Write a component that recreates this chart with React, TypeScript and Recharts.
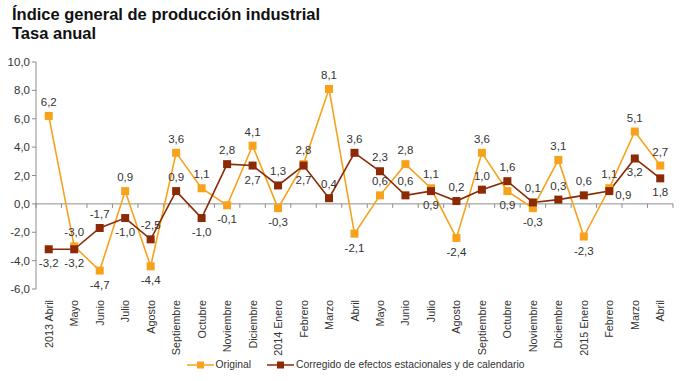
import React from 'react';
import { LineChart, Line, XAxis, YAxis, ReferenceLine, LabelList, Legend } from 'recharts';

const categories = ['2013 Abril', 'Mayo', 'Junio', 'Julio', 'Agosto', 'Septiembre', 'Octubre', 'Noviembre', 'Diciembre', '2014 Enero', 'Febrero', 'Marzo', 'Abril', 'Mayo', 'Junio', 'Julio', 'Agosto', 'Septiembre', 'Octubre', 'Noviembre', 'Diciembre', '2015 Enero', 'Febrero', 'Marzo', 'Abril'];
const original = [6.2, -3.0, -4.7, 0.9, -4.4, 3.6, 1.1, -0.1, 4.1, -0.3, 2.8, 8.1, -2.1, 0.6, 2.8, 1.1, -2.4, 3.6, 0.9, -0.3, 3.1, -2.3, 1.1, 5.1, 2.7];
const corregido = [-3.2, -3.2, -1.7, -1.0, -2.5, 0.9, -1.0, 2.8, 2.7, 1.3, 2.7, 0.4, 3.6, 2.3, 0.6, 0.9, 0.2, 1.0, 1.6, 0.1, 0.3, 0.6, 0.9, 3.2, 1.8];
const yTicks = [-6, -4, -2, 0, 2, 4, 6, 8, 10];

// label placement: t = above, b = below, r = right
const originalPlace = ['t', 't', 'b', 't', 'b', 't', 't', 'b', 't', 'b', 't', 't', 'b', 't', 't', 't', 'b', 't', 'b', 'b', 't', 'b', 't', 't', 't'];
const corregidoPlace = ['b', 'b', 't', 'b', 't', 't', 'b', 't', 'b', 't', 'b', 't', 't', 't', 't', 'b', 't', 't', 't', 't', 't', 't', 'r', 'b', 'b'];

const data = categories.map((c, i) => ({ cat: c, idx: i, original: original[i], corregido: corregido[i] }));

const ORANGE = '#F7A21B';
const DARK = '#8C2A06';
const FONT = '"Liberation Sans", Arial, sans-serif';

const fmt = (v: number) => v.toFixed(1).replace('.', ',');

const makeLabel = (places: string[]) => (props: any) => {
  const { x, y, value, index } = props;
  const p = places[index];
  let tx = x;
  let ty = y;
  let anchor: 'middle' | 'start' = 'middle';
  if (p === 't') ty = y - 14;
  else if (p === 'b') ty = y + 14;
  else if (p === 'r') { tx = x + 6; ty = y + 4; anchor = 'start'; }
  return (
    <text x={tx} y={ty + 4} textAnchor={anchor} fontSize={11.5} fontFamily={FONT} fill="#333">
      {fmt(value)}
    </text>
  );
};

const SquareDot = (color: string) => (props: any) => {
  const { cx, cy } = props;
  if (cx == null || cy == null) return <g />;
  return <rect x={cx - 4} y={cy - 4} width={8} height={8} fill={color} />;
};

const XTick = (props: any) => {
  const { x, payload } = props;
  const y = props.y + 3;
  return (
    <text x={x} y={y} transform={`rotate(-90, ${x}, ${y})`} textAnchor="end" dominantBaseline="central" fontSize={10.8} fontFamily={FONT} fill="#333">
      {categories[payload.value]}
    </text>
  );
};

const ZeroLine = (props: any) => {
  const { x1, y1, x2, y2 } = props;
  const n = categories.length;
  const step = (x2 - x1) / n;
  const ticks = [];
  for (let i = 0; i <= n; i++) {
    const tx = x1 + i * step;
    ticks.push(<line key={i} x1={tx} y1={y1} x2={tx} y2={y1 + 4} stroke="#8c8c8c" strokeWidth={1} />);
  }
  return (
    <g>
      <line x1={x1} y1={y1} x2={x2} y2={y2} stroke="#8c8c8c" strokeWidth={1} />
      {ticks}
    </g>
  );
};

const LegendContent = () => (
  <div style={{ display: 'flex', justifyContent: 'center', fontFamily: FONT, fontSize: 10.3, color: '#333', alignItems: 'center', paddingTop: 4, paddingLeft: 38 }}>
    <svg width={27} height={10} style={{ marginRight: 2 }}>
      <line x1={0} y1={5} x2={27} y2={5} stroke={ORANGE} strokeWidth={1.5} />
      <rect x={10} y={1.5} width={7} height={7} fill={ORANGE} />
    </svg>
    <span style={{ marginRight: 16 }}>Original</span>
    <svg width={27} height={10} style={{ marginRight: 2 }}>
      <line x1={0} y1={5} x2={27} y2={5} stroke={DARK} strokeWidth={1.5} />
      <rect x={10} y={1.5} width={7} height={7} fill={DARK} />
    </svg>
    <span>Corregido de efectos estacionales y de calendario</span>
  </div>
);

export default function App() {
  return (
    <div style={{ position: 'absolute', left: 0, top: 0, width: 680, height: 381, background: '#fff' }}>
      <div style={{ position: 'absolute', left: 12, top: 5, fontFamily: FONT, fontWeight: 'bold', fontSize: 16.5, lineHeight: '19px', color: '#111' }}>
        <div>Índice general de producción industrial</div>
        <div>Tasa anual</div>
      </div>
      <LineChart width={680} height={381} data={data} margin={{ top: 62, right: 7, left: 0, bottom: 6 }}>
        <XAxis dataKey="idx" type="category" scale="band" axisLine={false} tickLine={false} tick={<XTick />} height={66} interval={0} />
        <YAxis domain={[-6, 10]} ticks={yTicks} width={36} tickFormatter={fmt} axisLine={{ stroke: '#8c8c8c' }}
          tickLine={{ stroke: '#8c8c8c' }} tickSize={4} tick={{ fontSize: 11.5, fontFamily: FONT, fill: '#333' }} interval={0} />
        <ReferenceLine y={0} shape={<ZeroLine />} />
        <Legend verticalAlign="bottom" height={20} content={<LegendContent />} />
        <Line dataKey="original" stroke={ORANGE} strokeWidth={1.6} dot={SquareDot(ORANGE)} isAnimationActive={false}>
          <LabelList dataKey="original" content={makeLabel(originalPlace)} />
        </Line>
        <Line dataKey="corregido" stroke={DARK} strokeWidth={1.6} dot={SquareDot(DARK)} isAnimationActive={false}>
          <LabelList dataKey="corregido" content={makeLabel(corregidoPlace)} />
        </Line>
      </LineChart>
    </div>
  );
}
